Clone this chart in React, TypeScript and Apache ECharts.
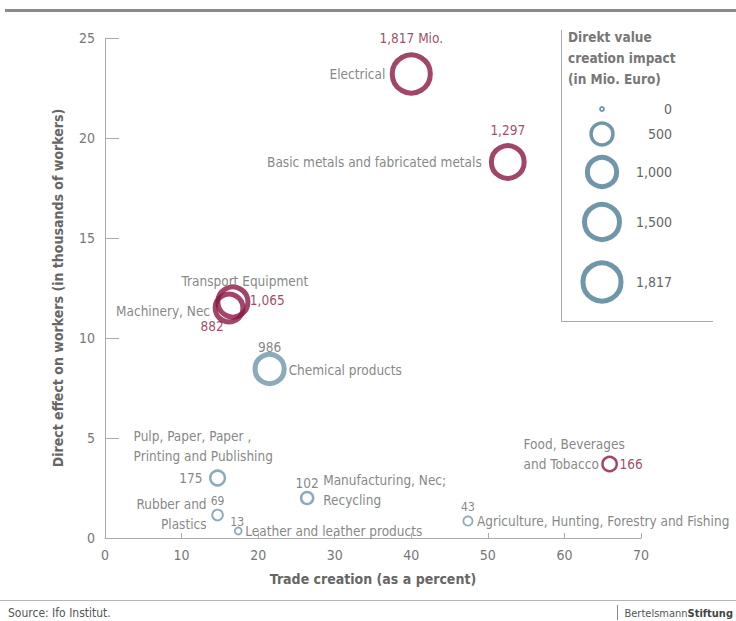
import React, { useEffect, useRef } from "react";
import * as echarts from "echarts";

// ---------- data ----------
const categories = [
  "Electrical",
  "Basic metals and fabricated metals",
  "Transport Equipment",
  "Machinery, Nec",
  "Chemical products",
  "Pulp, Paper, Paper ,\nPrinting and Publishing",
  "Rubber and\nPlastics",
  "Leather and leather products",
  "Manufacturing, Nec;\nRecycling",
  "Agriculture, Hunting, Forestry and Fishing",
  "Food, Beverages\nand Tobacco",
];
const tradeCreation = [40.0, 52.6, 16.7, 16.2, 21.5, 14.7, 14.7, 17.4, 26.4, 47.4, 65.9];
const workers = [23.2, 18.8, 11.8, 11.5, 8.45, 3.0, 1.15, 0.35, 2.0, 0.85, 3.7];
const valueCreation = [1817, 1297, 1065, 882, 986, 175, 69, 13, 102, 43, 166];
const highlighted = [true, true, true, true, false, false, false, false, false, false, true];
const valueSuffix = [" Mio.", "", "", "", "", "", "", "", "", "", ""];
const legendValues = [0, 500, 1000, 1500, 1817];
const legendTitle = "Direkt value\ncreation impact\n(in Mio. Euro)";

// ---------- label placement (pixel offsets from bubble centre) ----------
type Place = [number, number, "left" | "right" | "center"];
const namePlace: Place[] = [
  [-26, 0, "right"],
  [-26, 0, "right"],
  [12, -21, "center"],
  [-19, 3, "right"],
  [19, 1, "left"],
  [-84, -32, "left"],
  [-11, -1, "right"],
  [7, 0, "left"],
  [16, -8, "left"],
  [9, 0, "left"],
  [-86, -10, "left"],
];
const valuePlace: Place[] = [
  [0, -36, "center"],
  [0, -32, "center"],
  [17, -2, "left"],
  [-17, 18, "center"],
  [0, -22, "center"],
  [-15, 0, "right"],
  [0, -14, "center"],
  [-1, -9, "center"],
  [0, -15, "center"],
  [0, -14, "center"],
  [10, 0, "left"],
];
const legendCY = [109, 134, 172, 222, 282];

const RED = "#8a1842";
const BLUE = "#6f96a9";
const TXT = "#666666";
const FONT = "'DejaVu Sans Condensed', 'Liberation Sans Narrow', sans-serif";
const FS = 13.5;

const sz = (v: number) => 4 + 0.8 * Math.sqrt(v);
const bw = (v: number) => (v > 800 ? 5 : v > 300 ? 3.5 : v > 100 ? 2.5 : 1.8);
const fmt = (v: number) => v.toLocaleString("en-US");

export default function App() {
  const ref = useRef<HTMLDivElement>(null);
  useEffect(() => {
    document.body.style.margin = "0";
    if (!ref.current) return;
    const chart = echarts.init(ref.current, undefined, { renderer: "svg" });

    const bubbleData = categories.map((c, i) => ({
      name: c,
      value: [tradeCreation[i], workers[i], valueCreation[i]],
      symbolSize: sz(valueCreation[i]),
      itemStyle: {
        color: "rgba(0,0,0,0)",
        borderColor: highlighted[i] ? RED : BLUE,
        borderWidth: bw(valueCreation[i]),
      },
      label: {
        show: true,
        position: "inside",
        offset: [namePlace[i][0], namePlace[i][1]],
        align: namePlace[i][2],
        verticalAlign: "middle",
        formatter: c,
        color: TXT,
        fontSize: FS,
        lineHeight: 20,
        fontFamily: FONT,
      },
    }));

    const valueData = categories.map((c, i) => ({
      name: c,
      value: [tradeCreation[i], workers[i], valueCreation[i]],
      symbolSize: sz(valueCreation[i]),
      itemStyle: { color: "rgba(0,0,0,0)", borderWidth: 0 },
      label: {
        show: true,
        position: "inside",
        offset: [valuePlace[i][0], valuePlace[i][1]],
        align: valuePlace[i][2],
        verticalAlign: "middle",
        formatter: fmt(valueCreation[i]) + valueSuffix[i],
        color: highlighted[i] ? RED : TXT,
        fontSize: valueCreation[i] < 100 ? 12 : FS,
        fontFamily: FONT,
      },
    }));

    const legendGraphics: any[] = [];
    legendValues.forEach((v, i) => {
      legendGraphics.push({
        type: "circle",
        shape: { cx: 602, cy: legendCY[i], r: sz(v) / 2 },
        style: { fill: "none", stroke: BLUE, lineWidth: bw(v) },
        silent: true,
      });
      legendGraphics.push({
        type: "text",
        x: 672,
        y: legendCY[i],
        style: {
          text: fmt(v),
          fill: TXT,
          font: `${FS + 0.5}px ${FONT}`,
          textAlign: "right",
          textVerticalAlign: "middle",
        },
        silent: true,
      });
    });

    chart.setOption({
      animation: false,
      backgroundColor: "#ffffff",
      grid: { left: 105, right: 95, top: 38, bottom: 83, containLabel: false },
      xAxis: {
        type: "value",
        min: 0,
        max: 70,
        interval: 10,
        name: "Trade creation (as a percent)",
        nameLocation: "middle",
        nameGap: 34,
        nameTextStyle: { color: TXT, fontSize: 14, fontWeight: "bold", fontFamily: FONT },
        axisLine: { show: true, lineStyle: { color: "#aaaaaa", width: 1 } },
        axisTick: { show: true, inside: true, length: 5, lineStyle: { color: "#aaaaaa" } },
        axisLabel: { color: "#777777", fontSize: 14, margin: 10, fontFamily: FONT },
        splitLine: { show: false },
      },
      yAxis: {
        type: "value",
        min: 0,
        max: 25,
        interval: 5,
        name: "Direct effect on workers (in thousands of workers)",
        nameLocation: "middle",
        nameGap: 40,
        nameTextStyle: { color: TXT, fontSize: 14, fontWeight: "bold", fontFamily: FONT },
        axisLine: { show: true, lineStyle: { color: "#aaaaaa", width: 1 } },
        axisTick: { show: true, inside: true, length: 14, lineStyle: { color: "#aaaaaa" } },
        axisLabel: { color: "#777777", fontSize: 14, margin: 10, fontFamily: FONT },
        splitLine: { show: false },
      },
      series: [
        { type: "scatter", silent: true, data: bubbleData, z: 3 },
        { type: "scatter", silent: true, data: valueData, z: 4 },
      ],
      graphic: [
        {
          type: "rect",
          shape: { x: 5, y: 9, width: 731, height: 3 },
          style: { fill: "#8a8a8a" },
          silent: true,
        },
        {
          type: "line",
          shape: { x1: 561.5, y1: 30, x2: 561.5, y2: 321.5 },
          style: { stroke: "#aaaaaa", lineWidth: 1 },
          silent: true,
        },
        {
          type: "line",
          shape: { x1: 561.5, y1: 321.5, x2: 713, y2: 321.5 },
          style: { stroke: "#aaaaaa", lineWidth: 1 },
          silent: true,
        },
        {
          type: "text",
          x: 568,
          y: 26,
          style: {
            text: legendTitle,
            fill: "#777777",
            font: `bold 13.5px ${FONT}`,
            lineHeight: 21,
          },
          silent: true,
        },
        ...legendGraphics,
        {
          type: "line",
          shape: { x1: 0, y1: 600.5, x2: 736, y2: 600.5 },
          style: { stroke: "#b5b5b5", lineWidth: 1 },
          silent: true,
        },
        {
          type: "text",
          x: 8,
          y: 613,
          style: {
            text: "Source: Ifo Institut.",
            fill: "#555555",
            font: `12px ${FONT}`,
            textVerticalAlign: "middle",
          },
          silent: true,
        },
        {
          type: "line",
          shape: { x1: 617.5, y1: 605, x2: 617.5, y2: 620 },
          style: { stroke: "#888888", lineWidth: 1 },
          silent: true,
        },
        {
          type: "text",
          x: 733,
          y: 613,
          style: {
            text: "{a|Bertelsmann}{b|Stiftung}",
            textAlign: "right",
            textVerticalAlign: "middle",
            rich: {
              a: { fill: "#555555", font: `11px ${FONT}` },
              b: { fill: "#444444", font: `bold 11px ${FONT}` },
            },
          },
          silent: true,
        },
      ],
    });
    return () => chart.dispose();
  }, []);
  return <div ref={ref} style={{ width: 736, height: 621 }} />;
}
